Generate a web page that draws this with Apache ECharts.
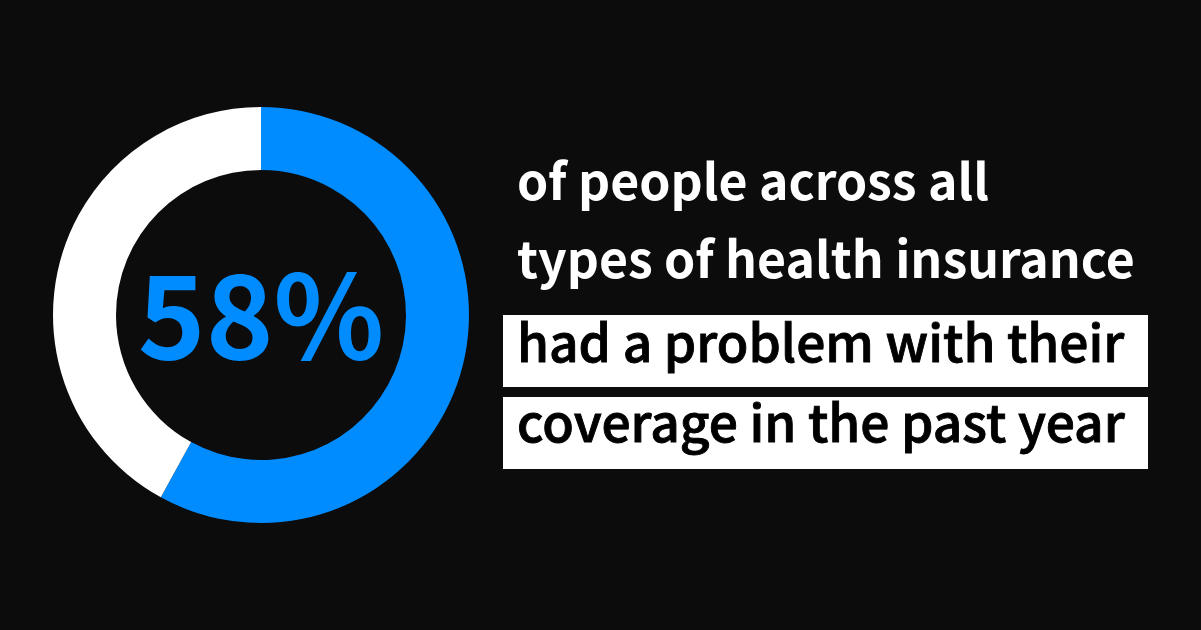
<!DOCTYPE html>
<html>
<head>
<meta charset="utf-8">
<script src="https://cdn.jsdelivr.net/npm/echarts@6/dist/echarts.min.js"></script>
<style>
html,body{margin:0;padding:0;background:#0c0c0c;}
#chart{width:1201px;height:630px;}
</style>
</head>
<body>
<div id="chart"></div>
<script>
// Data
const categories = ['Had a problem', 'No problem'];
const values = [58, 42];
const centerLabel = '58%';
const whiteLines = ['of people across all', 'types of health insurance'];
const boxedLines = ['had a problem with their', 'coverage in the past year'];

const BLUE = '#008cff';
const FONT = '"Noto Sans CJK JP", "Noto Sans", sans-serif';
const FONT_MED = '"Noto Sans CJK JP Medium", "Noto Sans CJK JP", "Noto Sans", sans-serif';

const chart = echarts.init(document.getElementById('chart'), null, {renderer: 'canvas'});

const graphics = [];
const whiteTop = [156, 234];
whiteLines.forEach((t, i) => {
  graphics.push({
    type: 'text',
    style: {x: 517, y: whiteTop[i], text: t, fill: '#ffffff', font: 'bold 50px ' + FONT,
            align: 'left', verticalAlign: 'top'}
  });
});
const boxTop = [315, 397];
const textTop = [317, 397];
boxedLines.forEach((t, i) => {
  graphics.push({
    type: 'rect', shape: {x: 503, y: boxTop[i], width: 645, height: 72},
    style: {fill: '#ffffff'}
  });
  graphics.push({
    type: 'text',
    style: {x: 517, y: textTop[i], text: t, fill: '#000000', font: '500 51.5px ' + FONT_MED,
            stroke: '#000000', lineWidth: 0.9,
            align: 'left', verticalAlign: 'top'}
  });
});
graphics.push({
  type: 'text',
  style: {x: 261, y: 258, text: centerLabel, fill: BLUE, font: 'bold 115px ' + FONT,
          align: 'center', verticalAlign: 'top'}
});

chart.setOption({
  backgroundColor: '#0c0c0c',
  animation: false,
  series: [{
    type: 'pie',
    center: [261, 315],
    radius: [145, 208],
    startAngle: 90,
    clockwise: true,
    silent: true,
    label: {show: false},
    labelLine: {show: false},
    itemStyle: {borderWidth: 0},
    data: categories.map((c, i) => ({
      name: c, value: values[i],
      itemStyle: {color: i === 0 ? BLUE : '#ffffff'}
    }))
  }],
  graphic: graphics
});
</script>
</body>
</html>
